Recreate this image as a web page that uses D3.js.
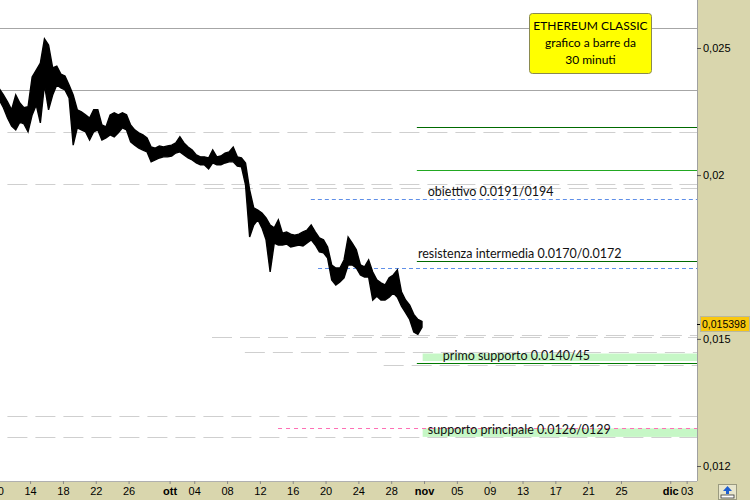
<!DOCTYPE html>
<html>
<head>
<meta charset="utf-8">
<script src="https://cdn.jsdelivr.net/npm/d3@7"></script>
<style>
    body { margin: 0; background: #fff; }
    svg { display: block; }
</style>
</head>
<body>
<div id="chart"></div>
<script>
// 12 hour bars (first bar Sep 10, 06:00)
var startTime = new Date(2019, 8, 10, 6);
var stepHours = 12;
var highs = [
    0.02327, 0.02302, 0.02274, 0.02243, 0.02302, 0.02270, 0.02251, 0.02255, 0.02376, 0.02405,
    0.02435, 0.02540, 0.02513, 0.02414, 0.02422, 0.02388, 0.02380, 0.02343, 0.02302, 0.02243,
    0.02235, 0.02223, 0.02211, 0.02243, 0.02243, 0.02184, 0.02177, 0.02223, 0.02231, 0.02223,
    0.02231, 0.02223, 0.02184, 0.02165, 0.02154, 0.02146, 0.02135, 0.02101, 0.02097, 0.02105,
    0.02101, 0.02105, 0.02108, 0.02116, 0.02139, 0.02116, 0.02101, 0.02090, 0.02072, 0.02065,
    0.02065, 0.02061, 0.02090, 0.02065, 0.02068, 0.02079, 0.02083, 0.02101, 0.02065, 0.02061,
    0.02043, 0.01949, 0.01888, 0.01881, 0.01871, 0.01855, 0.01832, 0.01823, 0.01849, 0.01806,
    0.01810, 0.01803, 0.01800, 0.01803, 0.01810, 0.01816, 0.01832, 0.01810, 0.01791, 0.01785,
    0.01763, 0.01708, 0.01699, 0.01699, 0.01723, 0.01794, 0.01775, 0.01754, 0.01708, 0.01702,
    0.01723, 0.01687, 0.01664, 0.01655, 0.01649, 0.01670, 0.01678, 0.01693, 0.01629, 0.01606,
    0.01592, 0.01566, 0.01552, 0.01547
];
var lows = [
    0.02282, 0.02251, 0.02211, 0.02180, 0.02165, 0.02195, 0.02188, 0.02158, 0.02223, 0.02262,
    0.02192, 0.02343, 0.02243, 0.02302, 0.02343, 0.02331, 0.02323, 0.02290, 0.02108, 0.02173,
    0.02165, 0.02158, 0.02127, 0.02158, 0.02165, 0.02127, 0.02135, 0.02146, 0.02139, 0.02154,
    0.02173, 0.02165, 0.02120, 0.02108, 0.02097, 0.02090, 0.02083, 0.02047, 0.02054, 0.02061,
    0.02065, 0.02065, 0.02068, 0.02079, 0.02083, 0.02072, 0.02061, 0.02054, 0.02043, 0.02036,
    0.02036, 0.02022, 0.02043, 0.02036, 0.02036, 0.02043, 0.02047, 0.02047, 0.02032, 0.02029,
    0.01966, 0.01794, 0.01832, 0.01849, 0.01823, 0.01785, 0.01687, 0.01775, 0.01769, 0.01769,
    0.01772, 0.01763, 0.01766, 0.01769, 0.01766, 0.01775, 0.01785, 0.01769, 0.01748, 0.01745,
    0.01729, 0.01664, 0.01649, 0.01658, 0.01670, 0.01708, 0.01708, 0.01699, 0.01678, 0.01672,
    0.01672, 0.01606, 0.01617, 0.01606, 0.01606, 0.01614, 0.01626, 0.01614, 0.01589, 0.01571,
    0.01552, 0.01518, 0.01512, 0.01531
];
var lastPrice = 0.015398;

// Right axis ticks
var priceTicks = [0.025, 0.02, 0.015, 0.012];

// Bottom axis ticks
var dateTicks = ["2019-09-10", "2019-09-14", "2019-09-18", "2019-09-22", "2019-09-26", "2019-10-01",
    "2019-10-04", "2019-10-08", "2019-10-12", "2019-10-16", "2019-10-20", "2019-10-24", "2019-10-28",
    "2019-11-01", "2019-11-05", "2019-11-09", "2019-11-13", "2019-11-17", "2019-11-21", "2019-11-25",
    "2019-12-01", "2019-12-03"];
var dateLabels = ["10", "14", "18", "22", "26", "ott", "04", "08", "12", "16", "20", "24", "28",
    "nov", "05", "09", "13", "17", "21", "25", "dic", "03"];
var monthLabels = ["ott", "nov", "dic"];

// Horizontal levels drawn on the chart
var solidLevels = [0.0259, 0.02322];
var greyDashLevels = [0.02157, 0.01969, 0.01954, 0.01511, 0.01504, 0.01467, 0.01434, 0.01309, 0.01263];
var greyDashStarts = ["2019-09-01T00:00", "2019-09-01T00:00", "2019-10-05T07:00", "2019-10-20T01:00",
    "2019-10-06T04:00", "2019-10-10T04:00", "2019-10-27T02:00", "2019-09-01T00:00", "2019-09-01T00:00"];
var blueDashLevels = [0.01917, 0.01698];
var blueDashStarts = ["2019-10-18T05:00", "2019-10-19T02:00"];
var pinkDashLevels = [0.01282];
var pinkDashStarts = ["2019-10-14T05:00"];
var greenLevels = [0.02176, 0.02017, 0.01720, 0.01439];
var greenColors = ["#006a00", "#22a822", "#006a00", "#007a00"];
var greenStart = "2019-10-31T03:00";
var bandLows = [0.01443, 0.01263];
var bandHighs = [0.01462, 0.01282];
var bandStart = "2019-10-31T20:00";

// Annotations
var annoTexts = ["obiettivo 0.0191/0194", "resistenza intermedia 0.0170/0.0172",
    "primo supporto 0.0140/45", "supporto principale 0.0126/0129"];
var annoLevels = [0.01917, 0.01720, 0.01439, 0.01263];
var annoStarts = ["2019-11-01T11:00", "2019-10-31T06:00", "2019-11-03T07:00", "2019-11-01T11:00"];

var titleLines = ["ETHEREUM CLASSIC", "grafico a barre da", "30 minuti"];

// Layout
var width = 750,
    height = 500,
    plotW = 697,
    plotH = 481;

var parse = function (s) { return new Date(s); };

var svg = d3.select("#chart")
    .append("svg")
    .attr("width", width)
    .attr("height", height);

// Panels
svg.append("rect").attr("width", width).attr("height", height).attr("fill", "#d9d6ad");
svg.append("rect").attr("width", plotW).attr("height", plotH).attr("fill", "#ffffff");

svg.append("clipPath").attr("id", "plotClip")
    .append("rect").attr("width", plotW).attr("height", plotH);

// Scales (log price axis)
var x = d3.scaleTime()
    .domain([new Date(2019, 8, 14), new Date(2019, 10, 25)])
    .range([30.1, 621]);
var y = d3.scaleLog()
    .domain([0.012, 0.025])
    .range([466, 48]);

var plot = svg.append("g").attr("clip-path", "url(#plotClip)");

// Helper for level lines
function levelLines(values, starts, color, dash) {
    plot.selectAll(null)
        .data(values)
        .enter()
        .append("line")
        .attr("x1", function (d, i) { return starts ? x(parse(starts[i])) : 0; })
        .attr("x2", plotW)
        .attr("y1", function (d) { return Math.round(y(d)) + 0.5; })
        .attr("y2", function (d) { return Math.round(y(d)) + 0.5; })
        .attr("stroke", color)
        .attr("stroke-width", 1)
        .attr("stroke-dasharray", dash);
}

levelLines(solidLevels, null, "#a6a6a6", null);
levelLines(greyDashLevels, greyDashStarts, "#cfcfcf", "20,8");

// Green bands
plot.selectAll(null)
    .data(bandLows)
    .enter()
    .append("rect")
    .attr("x", x(parse(bandStart)))
    .attr("width", plotW - x(parse(bandStart)))
    .attr("y", function (d, i) { return y(bandHighs[i]); })
    .attr("height", function (d, i) { return y(d) - y(bandHighs[i]); })
    .attr("fill", "#c6f7c6");

levelLines(blueDashLevels, blueDashStarts, "#5f8fe8", "4,3");
levelLines(pinkDashLevels, pinkDashStarts, "#ff6fb5", "4,4");

plot.selectAll(null)
    .data(greenLevels)
    .enter()
    .append("line")
    .attr("x1", x(parse(greenStart)))
    .attr("x2", plotW)
    .attr("y1", function (d) { return Math.round(y(d)) + 0.5; })
    .attr("y2", function (d) { return Math.round(y(d)) + 0.5; })
    .attr("stroke", function (d, i) { return greenColors[i]; })
    .attr("stroke-width", 1);

// Annotation texts
plot.selectAll(null)
    .data(annoTexts)
    .enter()
    .append("text")
    .attr("x", function (d, i) { return x(parse(annoStarts[i])); })
    .attr("y", function (d, i) { return y(annoLevels[i]) - 3; })
    .style("font-family", "Lato, 'Noto Sans', sans-serif")
    .style("font-size", "12.5px")
    .attr("fill", "#111")
    .text(function (d) { return d; });

// Price bars
var bars = highs.map(function (h, i) {
    return { date: d3.timeHour.offset(startTime, i * stepHours), high: h, low: lows[i] };
});

var area = d3.area()
    .x(function (d) { return x(d.date); })
    .y0(function (d) { return y(d.low); })
    .y1(function (d) { return y(d.high); });

plot.append("path")
    .datum(bars)
    .attr("d", area)
    .attr("fill", "#000")
    .attr("stroke", "#000")
    .attr("stroke-width", 1.4)
    .attr("stroke-linejoin", "miter");

// Title box
var tb = svg.append("g").attr("transform", "translate(529,13)");
tb.append("rect")
    .attr("x", 0.5).attr("y", 0.5)
    .attr("width", 122).attr("height", 60)
    .attr("rx", 3)
    .attr("fill", "#ffff00")
    .attr("stroke", "#8a8a50");
tb.selectAll(null)
    .data(titleLines)
    .enter()
    .append("text")
    .attr("x", 61.5)
    .attr("y", function (d, i) { return 17 + i * 17; })
    .attr("text-anchor", "middle")
    .style("font-family", "Lato, 'Noto Sans', sans-serif")
    .style("font-size", "12px")
    .attr("fill", "#000")
    .text(function (d) { return d; });

// Frame lines
svg.append("line").attr("x1", plotW + 0.5).attr("x2", plotW + 0.5).attr("y1", 0).attr("y2", plotH)
    .attr("stroke", "#a0a0a0");
svg.append("line").attr("x1", 0).attr("x2", plotW).attr("y1", plotH + 0.5).attr("y2", plotH + 0.5)
    .attr("stroke", "#b0b0b0");

// Right axis
var itFormat = d3.formatLocale({ decimal: ",", thousands: ".", grouping: [3], currency: ["", "€"] });
var yAxis = svg.append("g")
    .attr("transform", "translate(" + plotW + ",0)")
    .call(d3.axisRight(y)
        .tickValues(priceTicks)
        .tickFormat(itFormat.format("~g"))
        .tickSize(4)
        .tickPadding(2));
yAxis.select(".domain").remove();
yAxis.selectAll("text")
    .style("font-family", "'Liberation Sans', Arial, sans-serif")
    .style("font-size", "11px")
    .attr("fill", "#000");
yAxis.selectAll("line").attr("stroke", "#555");

// Last price tag
var py = y(lastPrice);
svg.append("line")
    .attr("x1", plotW).attr("x2", plotW + 4)
    .attr("y1", Math.round(py) + 0.5).attr("y2", Math.round(py) + 0.5)
    .attr("stroke", "#000");
svg.append("rect")
    .attr("x", 700.5).attr("y", Math.round(py) - 7.5)
    .attr("width", 49).attr("height", 15)
    .attr("fill", "#f9c80e")
    .attr("stroke", "#b8b8a0");
svg.append("text")
    .attr("x", 702)
    .attr("y", Math.round(py) + 4)
    .style("font-family", "'Liberation Sans', Arial, sans-serif")
    .style("font-size", "10.5px")
    .attr("fill", "#000")
    .text(itFormat.format(".6f")(lastPrice));

// Bottom axis
var xAxis = svg.append("g")
    .attr("transform", "translate(0," + plotH + ")")
    .call(d3.axisBottom(x)
        .tickValues(dateTicks.map(function (s) { return new Date(s + "T00:00"); }))
        .tickFormat(function (d, i) { return dateLabels[i]; })
        .tickSize(3)
        .tickPadding(3));
xAxis.select(".domain").remove();
xAxis.selectAll("line").attr("stroke", "#888");
xAxis.selectAll("text")
    .style("font-family", "'Liberation Sans', Arial, sans-serif")
    .style("font-size", "11px")
    .style("font-weight", function (d, i) { return monthLabels.indexOf(dateLabels[i]) >= 0 ? "bold" : "normal"; })
    .attr("fill", "#000");

// Small scroll icon in the corner
var icon = svg.append("g").attr("transform", "translate(718,484)");
icon.append("rect").attr("x", 0.5).attr("y", 0.5).attr("width", 18).attr("height", 15)
    .attr("fill", "#e8e6cc").attr("stroke", "#9a9a80");
icon.append("path").attr("d", "M9.5,2 L5,7 L8,7 L8,10 L11,10 L11,7 L14,7 Z").attr("fill", "#1f5fd0");
icon.append("rect").attr("x", 3).attr("y", 11).attr("width", 13).attr("height", 3)
    .attr("fill", "#fff").attr("stroke", "#333").attr("stroke-width", 0.8);
</script>
</body>
</html>
